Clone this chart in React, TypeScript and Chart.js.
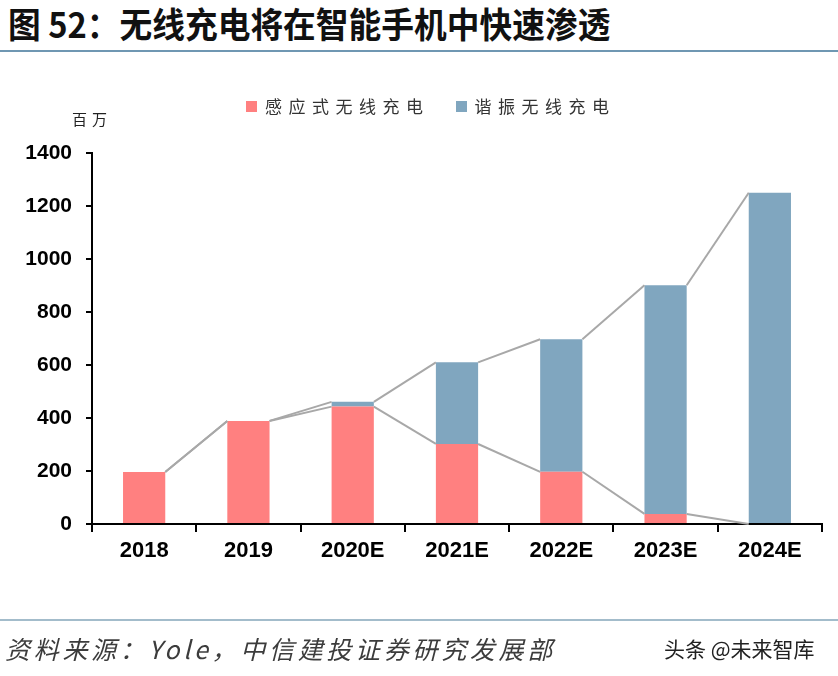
import React, { useEffect, useRef } from "react";
import { Chart, registerables } from "chart.js";

Chart.register(...registerables);

const categories = ["2018", "2019", "2020E", "2021E", "2022E", "2023E", "2024E"];
const inductive = [196, 389, 443, 302, 197, 38, 0];
const resonant = [0, 0, 18, 308, 500, 863, 1250];
const seriesNames = ["感应式无线充电", "谐振无线充电"];
const yMin = 0;
const yMax = 1400;
const yStep = 200;

const PINK = "#ff8080";
const BLUE = "#80a6bf";

const seriesLinesPlugin = {
  id: "seriesLines",
  afterDatasetsDraw(chart: any) {
    const y = chart.scales.y;
    const meta = chart.getDatasetMeta(0);
    const ctx = chart.ctx;
    const totals = inductive.map((v, i) => v + resonant[i]);
    const tops = [inductive, totals];
    ctx.save();
    ctx.strokeStyle = "#a8a8a8";
    ctx.lineWidth = 2;
    for (const arr of tops) {
      for (let i = 0; i < arr.length - 1; i++) {
        const a = meta.data[i];
        const b = meta.data[i + 1];
        ctx.beginPath();
        ctx.moveTo(a.x + a.width / 2, y.getPixelForValue(arr[i]));
        ctx.lineTo(b.x - b.width / 2, y.getPixelForValue(arr[i + 1]));
        ctx.stroke();
      }
    }
    ctx.restore();
  },
};

export default function App() {
  const canvasRef = useRef<HTMLCanvasElement | null>(null);

  useEffect(() => {
    document.body.style.margin = "0";
    const canvas = canvasRef.current;
    if (!canvas) return;
    const chart = new Chart(canvas, {
      type: "bar",
      data: {
        labels: categories,
        datasets: [
          {
            label: seriesNames[0],
            data: inductive,
            backgroundColor: PINK,
            categoryPercentage: 1,
            barPercentage: 0.405,
          },
          {
            label: seriesNames[1],
            data: resonant,
            backgroundColor: BLUE,
            categoryPercentage: 1,
            barPercentage: 0.405,
          },
        ],
      },
      options: {
        animation: false,
        responsive: false,
        maintainAspectRatio: false,
        layout: { padding: { left: 0, right: 16, top: 153, bottom: 112 } },
        plugins: {
          legend: { display: false },
          tooltip: { enabled: false },
          title: { display: false },
        },
        scales: {
          x: {
            stacked: true,
            afterFit: (scale: any) => {
              scale.height = 40;
            },
            border: { display: true, color: "#000", width: 2 },
            grid: {
              display: true,
              offset: true,
              drawOnChartArea: false,
              drawTicks: true,
              tickLength: 8,
              color: "#000",
              lineWidth: 2,
            },
            ticks: {
              color: "#000",
              padding: 6,
              font: { family: "'Liberation Sans', Arial, sans-serif", size: 22, weight: "bold" },
            },
          },
          y: {
            stacked: true,
            min: yMin,
            max: yMax,
            afterFit: (scale: any) => {
              scale.width = 92;
            },
            border: { display: true, color: "#000", width: 2 },
            grid: {
              display: true,
              drawOnChartArea: false,
              drawTicks: true,
              tickLength: 6,
              color: "#000",
              lineWidth: 2,
            },
            ticks: {
              stepSize: yStep,
              color: "#000",
              padding: 14,
              callback: (v: any) => String(v),
              font: { family: "'Liberation Sans', Arial, sans-serif", size: 21, weight: "bold" },
            },
          },
        },
      } as any,
      plugins: [seriesLinesPlugin],
    });
    return () => chart.destroy();
  }, []);

  const cjk = "'Noto Sans CJK SC', 'Noto Sans', sans-serif";

  return (
    <div style={{ position: "relative", width: 838, height: 676, background: "#fff", overflow: "hidden" }}>
      <div
        style={{
          position: "absolute",
          left: 8,
          top: 1,
          fontFamily: cjk,
          fontWeight: 700,
          fontSize: 35,
          lineHeight: "44px",
          color: "#111",
          whiteSpace: "nowrap",
          transform: "scaleX(0.935)",
          transformOrigin: "left center",
        }}
      >
        图 52：无线充电将在智能手机中快速渗透
      </div>
      <div style={{ position: "absolute", left: 0, top: 50, width: 838, height: 2, background: "#6f97b2" }} />

      <canvas ref={canvasRef} width={838} height={676} style={{ position: "absolute", left: 0, top: 0 }} />

      <div
        style={{
          position: "absolute",
          left: 72,
          top: 109,
          fontFamily: cjk,
          fontSize: 15,
          lineHeight: "20px",
          letterSpacing: 5,
          color: "#222",
          whiteSpace: "nowrap",
        }}
      >
        百万
      </div>

      <div style={{ position: "absolute", left: 246, top: 95, display: "flex", alignItems: "center", whiteSpace: "nowrap" }}>
        <span style={{ display: "inline-block", width: 11, height: 11, background: PINK, marginRight: 8 }} />
        <span style={{ fontFamily: cjk, fontSize: 17, lineHeight: "22px", letterSpacing: 6.5, color: "#333" }}>
          {seriesNames[0]}
        </span>
        <span style={{ display: "inline-block", width: 11, height: 11, background: BLUE, marginLeft: 26, marginRight: 8 }} />
        <span style={{ fontFamily: cjk, fontSize: 17, lineHeight: "22px", letterSpacing: 6.5, color: "#333" }}>
          {seriesNames[1]}
        </span>
      </div>

      <div style={{ position: "absolute", left: 0, top: 619, width: 838, height: 2, background: "#a3bccb" }} />
      <div
        style={{
          position: "absolute",
          left: 5,
          top: 632,
          fontFamily: cjk,
          fontStyle: "italic",
          fontSize: 25,
          lineHeight: "32px",
          letterSpacing: 3.7,
          color: "#3c3c3c",
          whiteSpace: "nowrap",
        }}
      >
        资料来源：Yole，中信建投证券研究发展部
      </div>
      <div
        style={{
          position: "absolute",
          left: 664,
          top: 634,
          fontFamily: cjk,
          fontSize: 21,
          lineHeight: "28px",
          color: "#222",
          whiteSpace: "nowrap",
        }}
      >
        头条 @未来智库
      </div>
    </div>
  );
}
